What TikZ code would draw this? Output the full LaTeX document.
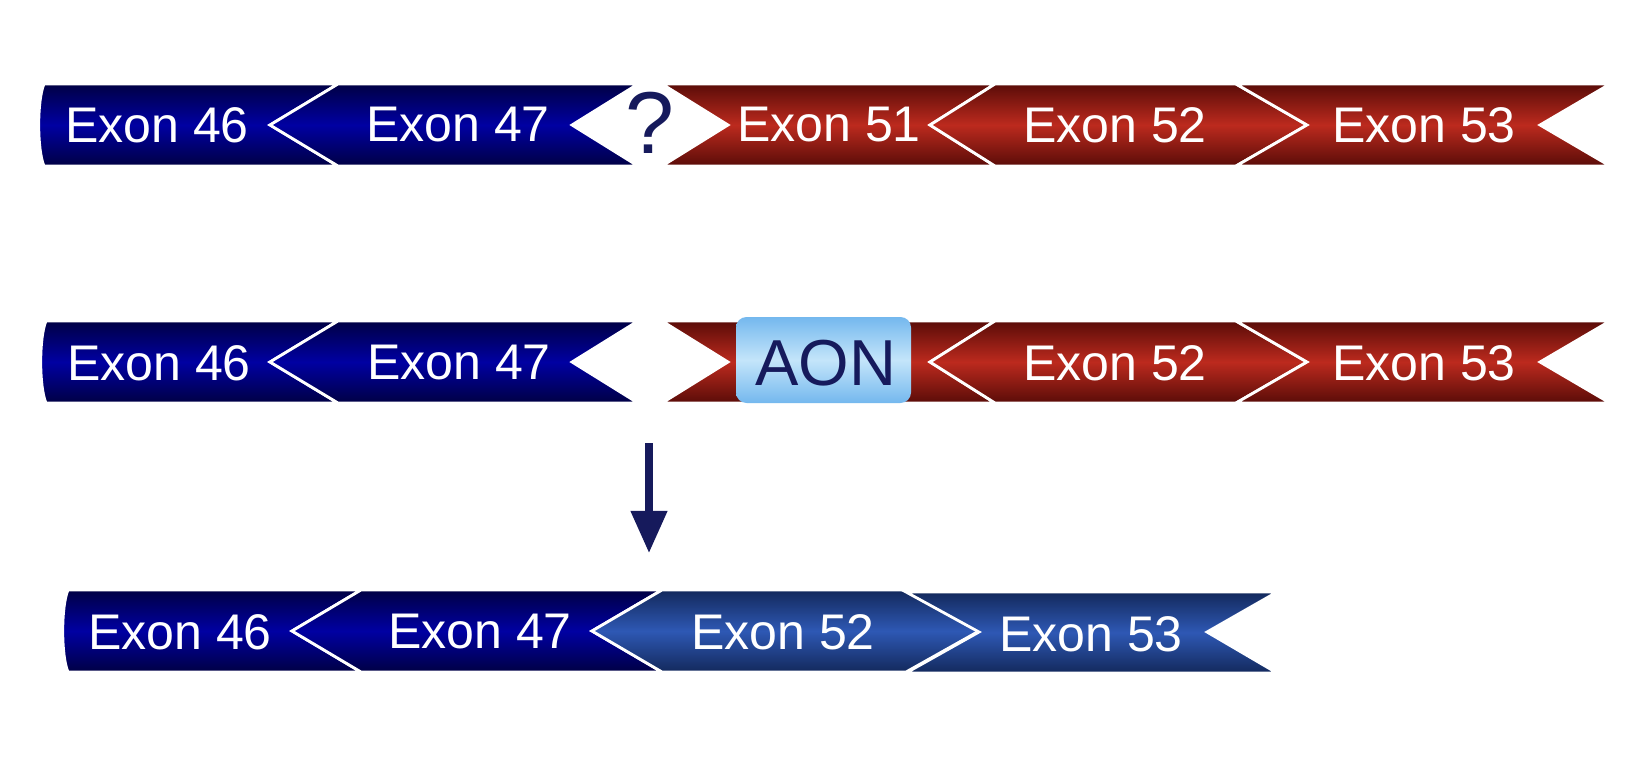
\documentclass[tikz,border=0pt]{standalone}
\usepackage{fontspec}
\setmainfont{Liberation Sans}
\usetikzlibrary{arrows.meta}

\definecolor{navyedge}{HTML}{000044}
\definecolor{navymid}{HTML}{0000A2}
\definecolor{rededge}{HTML}{5A0C08}
\definecolor{redmid}{HTML}{BC2A1E}
\definecolor{skipedge}{HTML}{13295C}
\definecolor{skipmid}{HTML}{2E58B4}
\definecolor{aonedge}{HTML}{74B8EE}
\definecolor{aonmid}{HTML}{C4E5FA}
\definecolor{inknavy}{HTML}{161A5C}

\begin{document}
\begin{tikzpicture}[
    x=0.02cm, y=-0.02cm,
    exonblue/.style={draw=white, line width=1.6pt, top color=navyedge, bottom color=navyedge, middle color=navymid},
    exonred/.style={draw=white, line width=1.6pt, top color=rededge, bottom color=rededge, middle color=redmid},
    exonskip/.style={draw=white, line width=1.6pt, top color=skipedge, bottom color=skipedge, middle color=skipmid},
    aonbox/.style={rounded corners=6pt, top color=aonedge, bottom color=aonedge, middle color=aonmid},
    label/.style={text=white, inner sep=0pt, font=\fontsize{28.5}{30}\selectfont},
    arrow/.style={-{Triangle[width=20pt, length=24pt]}, line width=4.2pt, draw=inknavy}
]
\useasboundingbox (0,0) rectangle (1642,770);

% Row 1 - original transcript
\draw[exonblue] (44,84) -- (338,84) -- (270,125) -- (338,166) -- (44,166) .. controls (37,150) and (37,100) .. cycle;
\draw[exonblue] (338,84) -- (638,84) -- (572,125) -- (638,166) -- (338,166) -- (270,125) -- cycle;
\draw[exonred] (662,84) -- (995,84) -- (930,125) -- (995,166) -- (662,166) -- (728,125) -- cycle;
\draw[exonred] (995,84) -- (1236,84) -- (1307,125) -- (1236,166) -- (995,166) -- (930,125) -- cycle;
\draw[exonred] (1236,84) -- (1610,84) -- (1540,125) -- (1610,166) -- (1236,166) -- (1307,125) -- cycle;
\node[label] (a46) at (157,125) {Exon 46};
\node[label] (a47) at (458,125) {Exon 47};
\node[text=inknavy, inner sep=0pt, font=\fontsize{50}{52}\selectfont] (miss) at (650,123) {?};
\node[label] (a51) at (829,125) {Exon 51};
\node[label] (a52) at (1115,125) {Exon 52};
\node[label] (a53) at (1424,125) {Exon 53};

% Row 2 - AON bound to exon 51
\draw[exonblue] (46,321) -- (338,321) -- (270,362) -- (338,403) -- (46,403) .. controls (39,387) and (39,337) .. cycle;
\draw[exonblue] (338,321) -- (638,321) -- (572,362) -- (638,403) -- (338,403) -- (270,362) -- cycle;
\draw[exonred] (662,321) -- (995,321) -- (930,362) -- (995,403) -- (662,403) -- (728,362) -- cycle;
\draw[exonred] (995,321) -- (1236,321) -- (1307,362) -- (1236,403) -- (995,403) -- (930,362) -- cycle;
\draw[exonred] (1236,321) -- (1610,321) -- (1540,362) -- (1610,403) -- (1236,403) -- (1307,362) -- cycle;
\shade[aonbox] (736,317) rectangle (911,403);
\node[label] (b46) at (159,363) {Exon 46};
\node[label] (b47) at (459,363) {Exon 47};
\node[text=inknavy, inner sep=0pt, font=\fontsize{37}{39}\selectfont] (aon) at (826,363) {AON};
\node[label] (b52) at (1115,363) {Exon 52};
\node[label] (b53) at (1424,363) {Exon 53};

% Skipping
\coordinate (skipfrom) at (649,443);
\coordinate (skipto) at (649,553);
\draw[arrow] (skipfrom) -- (skipto);

% Row 3 - skipped transcript
\draw[exonblue] (68,590) -- (361,590) -- (292,631) -- (361,672) -- (68,672) .. controls (61,656) and (61,606) .. cycle;
\draw[exonblue] (361,590) -- (662,590) -- (592,631) -- (662,672) -- (361,672) -- (292,631) -- cycle;
\draw[exonskip] (662,590) -- (906,590) -- (979,631) -- (906,672) -- (662,672) -- (592,631) -- cycle;
\draw[exonskip] (906,592) -- (1277,592) -- (1207,632) -- (1277,673) -- (906,673) -- (979,632) -- cycle;
\node[label] (c46) at (180,632) {Exon 46};
\node[label] (c47) at (480,632) {Exon 47};
\node[label] (c52) at (783,632) {Exon 52};
\node[label] (c53) at (1091,634) {Exon 53};

\end{tikzpicture}
\end{document}
